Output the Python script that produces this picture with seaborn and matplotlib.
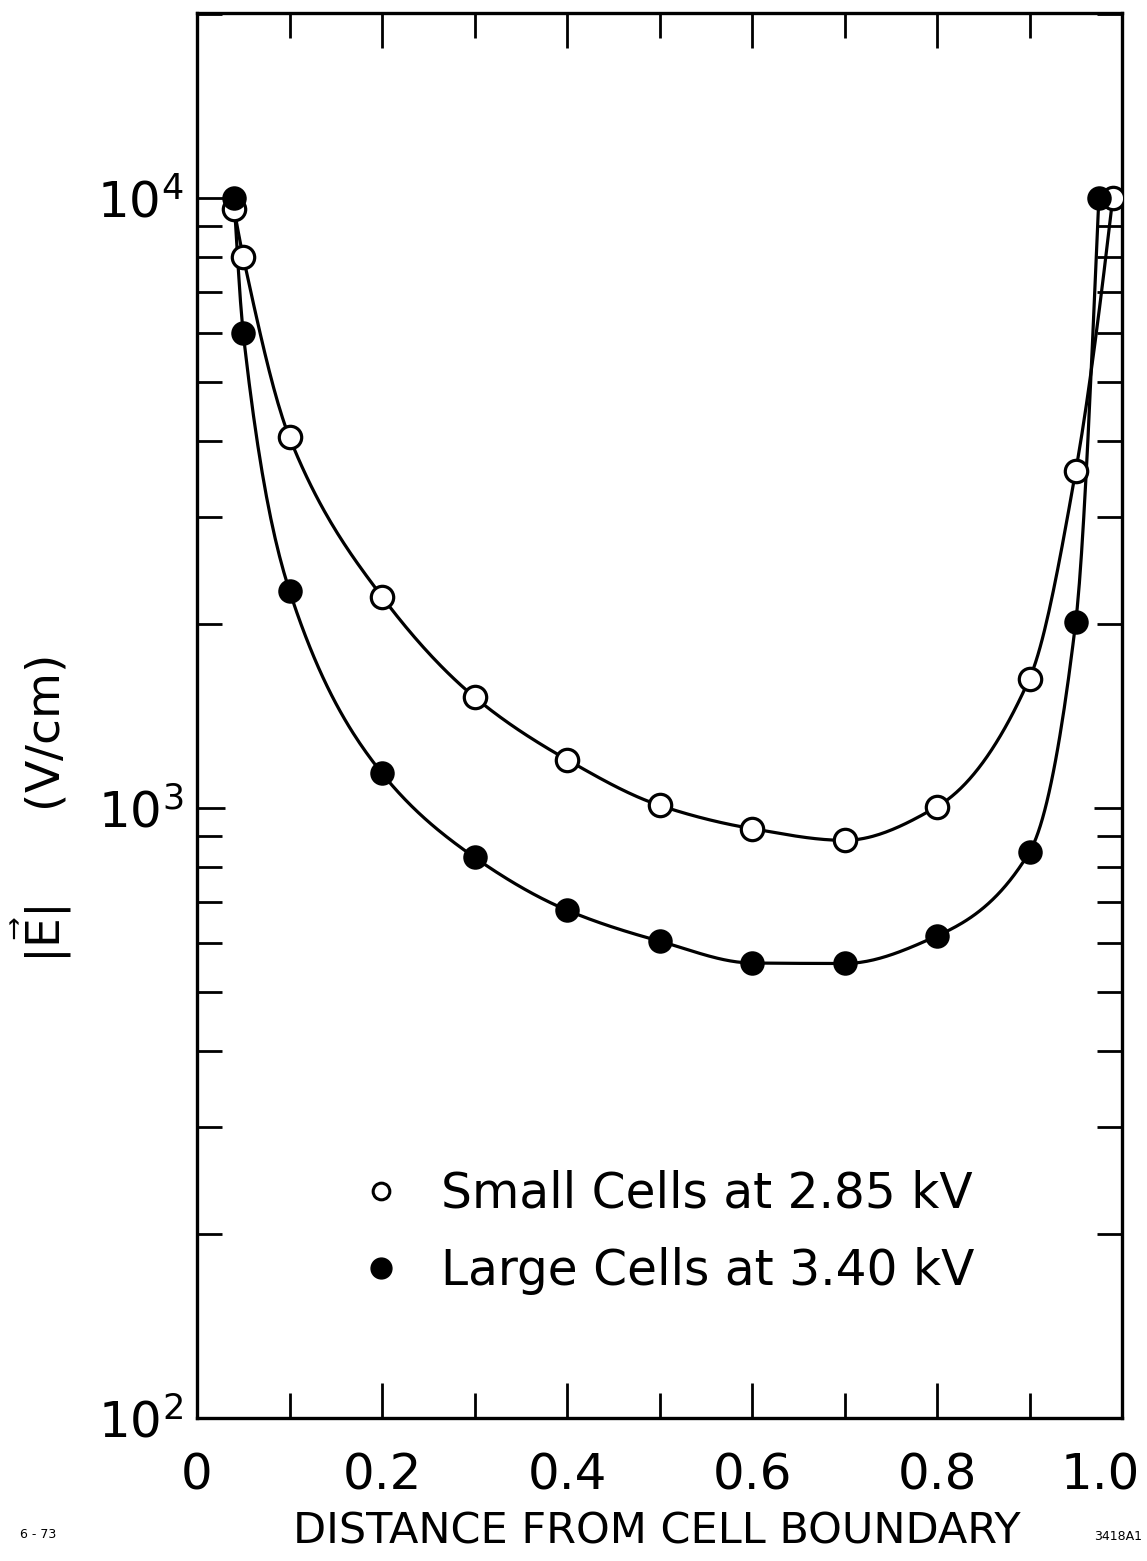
import numpy as np
import pandas as pd
import seaborn as sns
import matplotlib
matplotlib.use("Agg")
import matplotlib.pyplot as plt
import matplotlib.transforms as mtransforms
from matplotlib.ticker import MultipleLocator, LogLocator, FixedLocator, FixedFormatter, NullFormatter
from matplotlib.lines import Line2D

# Field magnitude across the cell, two cell sizes
small_x = [0.04, 0.05, 0.10, 0.20, 0.30, 0.40, 0.50, 0.60, 0.70, 0.80, 0.90, 0.95, 0.99]
small_e = [9600, 8000, 4050, 2220, 1520, 1200, 1010, 925, 885, 1005, 1630, 3570, 10000]
large_x = [0.04, 0.05, 0.10, 0.20, 0.30, 0.40, 0.50, 0.60, 0.70, 0.80, 0.90, 0.95, 0.975]
large_e = [10000, 6000, 2270, 1140, 830, 680, 605, 557, 556, 617, 847, 2020, 10000]

series_names = ["Small Cells at 2.85 kV", "Large Cells at 3.40 kV"]
x_tick_values = [0, 0.2, 0.4, 0.6, 0.8, 1.0]
x_tick_labels = ["0", "0.2", "0.4", "0.6", "0.8", "1.0"]
y_tick_values = [1e2, 1e3, 1e4]
y_tick_labels = [r"$\mathregular{10^2}$", r"$\mathregular{10^3}$", r"$\mathregular{10^4}$"]


def pchip_curve(x, y, n=400):
    """Smooth monotone (PCHIP) curve through the points, built in log10(y)."""
    x = np.asarray(x, float)
    y = np.log10(np.asarray(y, float))
    h = np.diff(x)
    d = np.diff(y) / h
    m = np.zeros_like(y)
    for k in range(1, len(x) - 1):
        if d[k - 1] * d[k] <= 0:
            m[k] = 0.0
        else:
            w1 = 2 * h[k] + h[k - 1]
            w2 = h[k] + 2 * h[k - 1]
            m[k] = (w1 + w2) / (w1 / d[k - 1] + w2 / d[k])

    def end_slope(h0, h1, d0, d1):
        s = ((2 * h0 + h1) * d0 - h0 * d1) / (h0 + h1)
        if np.sign(s) != np.sign(d0):
            s = 0.0
        elif np.sign(d0) != np.sign(d1) and abs(s) > abs(3 * d0):
            s = 3 * d0
        return s

    m[0] = end_slope(h[0], h[1], d[0], d[1])
    m[-1] = end_slope(h[-1], h[-2], d[-1], d[-2])
    xs = np.linspace(x[0], x[-1], n)
    idx = np.clip(np.searchsorted(x, xs) - 1, 0, len(x) - 2)
    t = (xs - x[idx]) / h[idx]
    h00 = 2 * t**3 - 3 * t**2 + 1
    h10 = t**3 - 2 * t**2 + t
    h01 = -2 * t**3 + 3 * t**2
    h11 = t**3 - t**2
    ys = h00 * y[idx] + h10 * h[idx] * m[idx] + h01 * y[idx + 1] + h11 * h[idx] * m[idx + 1]
    return xs, 10 ** ys


sns.set_theme(style="ticks")
plt.rcParams["font.family"] = ["DejaVu Sans"]
plt.rcParams["mathtext.fontset"] = "dejavusans"
for key in ("text.color", "axes.labelcolor", "xtick.color", "ytick.color"):
    plt.rcParams[key] = "black"

W, H = 1147, 1561
fig = plt.figure(figsize=(W / 100, H / 100), dpi=100)
ax = fig.add_axes([197 / W, 1 - 1418 / H, (1122 - 197) / W, (1418 - 13) / H])

df_small = pd.DataFrame({"x": small_x, "E": small_e})
df_large = pd.DataFrame({"x": large_x, "E": large_e})

for xs, es in ((small_x, small_e), (large_x, large_e)):
    cx, cy = pchip_curve(xs, es)
    sns.lineplot(x=cx, y=cy, ax=ax, color="black", lw=2.3, sort=False, zorder=2)

sns.scatterplot(data=df_small, x="x", y="E", ax=ax, s=260, marker="o",
                facecolor="white", edgecolor="black", linewidth=2.3, zorder=3)
sns.scatterplot(data=df_large, x="x", y="E", ax=ax, s=260, marker="o",
                facecolor="black", edgecolor="black", linewidth=1.5, zorder=4)

ax.set_yscale("log")
ax.set_xlim(0, 1.0)
ax.set_ylim(100, 20100)

ax.xaxis.set_major_locator(FixedLocator(x_tick_values))
ax.xaxis.set_major_formatter(FixedFormatter(x_tick_labels))
ax.xaxis.set_minor_locator(MultipleLocator(0.1))
ax.yaxis.set_major_locator(FixedLocator(y_tick_values))
ax.yaxis.set_major_formatter(FixedFormatter(y_tick_labels))
ax.yaxis.set_minor_locator(LogLocator(base=10, subs=np.arange(2, 10), numticks=20))
ax.yaxis.set_minor_formatter(NullFormatter())

ax.tick_params(which="both", direction="in", top=True, right=True,
               width=2.0, color="black", labelsize=36)
ax.tick_params(axis="x", which="major", length=25, pad=24)
ax.tick_params(axis="x", which="minor", length=18)
ax.tick_params(axis="y", which="major", length=20, pad=10)
ax.tick_params(axis="y", which="minor", length=18)

for sp in ax.spines.values():
    sp.set_linewidth(2.4)
    sp.set_color("black")

fig.canvas.draw()
# pull the last x label inward so it stays on the page
last = ax.get_xticklabels()[-1]
last.set_transform(last.get_transform() + mtransforms.ScaledTranslation(-22 / 100, 0, fig.dpi_scale_trans))

ax.set_xlabel("DISTANCE FROM CELL BOUNDARY", fontsize=31)
ax.xaxis.set_label_coords(0.497, -0.066)
ax.xaxis.label.set_va("top")
ax.set_ylabel(r"$|\vec{\mathrm{E}}|$" + "      (V/cm)", fontsize=34)
ax.yaxis.set_label_coords(-0.133, 0.433)

handles = [
    Line2D([], [], ls="none", marker="o", ms=12, mfc="white", mec="black", mew=2.2),
    Line2D([], [], ls="none", marker="o", ms=15, mfc="black", mec="black"),
]
ax.legend(handles, series_names, loc="center left", bbox_to_anchor=(0.125, 0.132),
          frameon=False, fontsize=35, handletextpad=0.75, labelspacing=0.6,
          handlelength=1.0)

fig.text(20 / W, 1 - 1535 / H, "6 - 73", fontsize=9, va="center", ha="left")
fig.text(1142 / W, 1 - 1537 / H, "3418A1", fontsize=9, va="center", ha="right")

fig.savefig("out.png", dpi=100, facecolor="white")
